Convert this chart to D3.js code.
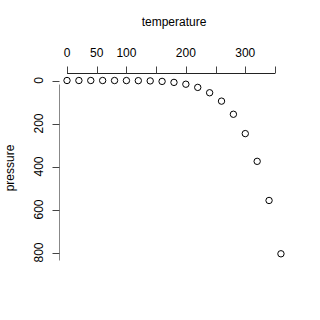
<!DOCTYPE html>
<html lang="en">
  <head>
    <meta charset="UTF-8" />
    <title>pressure vs temperature</title>
    <script src="https://d3js.org/d3.v7.min.js"></script>
    <style>
      body { margin: 0; background: #fff; }
      text { font-family: "Liberation Sans", Arial, sans-serif; }
    </style>
  </head>
  <body>
    <script>
      // R "pressure" dataset
      const temperature = [0, 20, 40, 60, 80, 100, 120, 140, 160, 180, 200, 220, 240, 260, 280, 300, 320, 340, 360];
      const pressure = [0.0002, 0.0012, 0.006, 0.03, 0.09, 0.27, 0.75, 1.85, 4.2, 8.8, 17.3, 32.1, 57, 96, 157, 247, 376, 558, 806];
      const xTicks = [0, 50, 100, 150, 200, 250, 300, 350];
      const xLabels = [0, 50, 100, 200, 300];
      const yTicks = [0, 200, 400, 600, 800];

      const W = 320, H = 320;
      const svg = d3.select("body").append("svg").attr("width", W).attr("height", H);

      const x = d3.scaleLinear().domain([0, 350]).range([67, 275]);
      const y = d3.scaleLinear().domain([0, 800]).range([80.5, 252.5]);

      // top axis
      const xAxis = svg.append("g").attr("transform", "translate(0,73.5)");
      xAxis.append("line").attr("x1", x(0)).attr("x2", x(350)).attr("stroke", "#222");
      xAxis.selectAll("line.tick").data(xTicks).join("line")
        .attr("class", "tick")
        .attr("x1", d => Math.round(x(d)) + 0.5).attr("x2", d => Math.round(x(d)) + 0.5)
        .attr("y1", 0).attr("y2", -7).attr("stroke", "#444");
      xAxis.selectAll("text").data(xLabels).join("text")
        .attr("x", d => x(d)).attr("y", -17)
        .attr("text-anchor", "middle").attr("font-size", 12).text(d => d);

      // left axis
      const yAxis = svg.append("g").attr("transform", "translate(59.5,0)");
      yAxis.append("line").attr("y1", y(0) + 4).attr("y2", y(800) + 8).attr("stroke", "#888");
      yAxis.selectAll("line.tick").data(yTicks).join("line")
        .attr("class", "tick")
        .attr("y1", d => Math.round(y(d)) + 0.5).attr("y2", d => Math.round(y(d)) + 0.5)
        .attr("x1", 0).attr("x2", -7).attr("stroke", "#444");
      yAxis.selectAll("text").data(yTicks).join("text")
        .attr("transform", d => `translate(-17,${y(d)}) rotate(-90)`)
        .attr("text-anchor", "middle").attr("font-size", 12).text(d => d);

      svg.append("text").attr("x", 174).attr("y", 26)
        .attr("text-anchor", "middle").attr("font-size", 12).text("temperature");
      svg.append("text").attr("transform", "translate(14,168) rotate(-90)")
        .attr("text-anchor", "middle").attr("font-size", 12).text("pressure");

      svg.append("g").selectAll("circle").data(temperature).join("circle")
        .attr("cx", d => x(d))
        .attr("cy", (d, i) => y(pressure[i]))
        .attr("r", 3.2)
        .attr("fill", "none").attr("stroke", "#000").attr("stroke-width", 1);
    </script>
  </body>
</html>
